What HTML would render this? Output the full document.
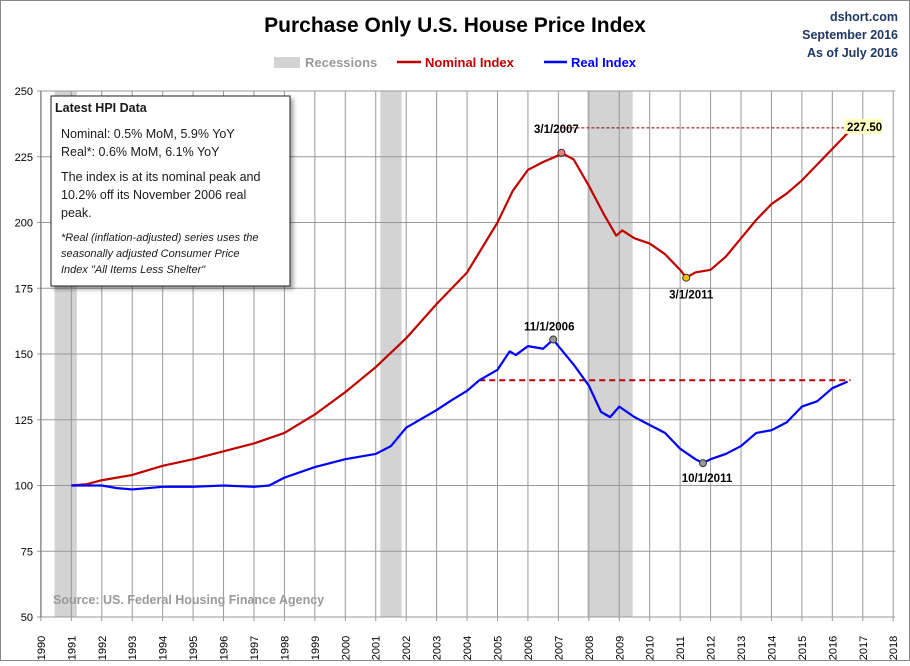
<!DOCTYPE html>
<html><head><meta charset="utf-8"><style>
body{margin:0;background:#fff;font-family:"Liberation Sans",sans-serif}
svg text{font-family:"Liberation Sans",sans-serif}
</style></head><body>
<svg width="910" height="661" xmlns="http://www.w3.org/2000/svg">
<defs><filter id="sh" x="-10%" y="-10%" width="130%" height="130%"><feDropShadow dx="3" dy="3" stdDeviation="2" flood-color="#000" flood-opacity="0.35"/></filter></defs>
<rect x="0.5" y="0.5" width="909" height="660" fill="#fff" stroke="#888"/>
<text x="455" y="32" text-anchor="middle" font-size="21" font-weight="bold">Purchase Only U.S. House Price Index</text>
<g font-size="12.5" font-weight="bold" fill="#1f3864" text-anchor="end">
<text x="898" y="21">dshort.com</text><text x="898" y="39">September 2016</text><text x="898" y="57">As of July 2016</text></g>
<g font-size="13" font-weight="bold">
<rect x="274" y="57" width="26" height="11" fill="#d3d3d3"/>
<text x="305" y="67" fill="#999">Recessions</text>
<line x1="397" y1="62" x2="421" y2="62" stroke="#c00000" stroke-width="2.5"/>
<text x="425" y="67" fill="#c00000">Nominal Index</text>
<line x1="544" y1="62" x2="567" y2="62" stroke="#0000ff" stroke-width="2.5"/>
<text x="571" y="67" fill="#0000ff">Real Index</text>
</g>
<g id="plot"></g>
<g filter="url(#sh)">
<rect x="51" y="96" width="239" height="190" fill="#fff" stroke="#222"/>
</g>
<g font-size="12.5" fill="#1a1a1a">
<text x="55" y="112" font-weight="bold">Latest HPI Data</text>
<text x="61" y="138">Nominal:  0.5% MoM, 5.9% YoY</text>
<text x="61" y="156">Real*:  0.6% MoM, 6.1% YoY</text>
<text x="61" y="181">The index is at its nominal peak and</text>
<text x="61" y="199">10.2% off its November 2006 real</text>
<text x="61" y="217">peak.</text>
<g font-style="italic" font-size="11"><text x="61" y="241">*Real (inflation-adjusted) series uses the</text>
<text x="61" y="257">seasonally adjusted Consumer Price</text>
<text x="61" y="273">Index "All Items Less Shelter"</text></g>
</g>
</svg>
<script>
const years=[1990,1991,1992,1993,1994,1995,1996,1997,1998,1999,2000,2001,2002,2003,2004,2005,2006,2007,2008,2009,2010,2011,2012,2013,2014,2015,2016,2017,2018];
const yTicks=[50,75,100,125,150,175,200,225,250];
const recessions=[[1990.45,1991.18],[2001.15,2001.85],[2007.95,2009.44]];
const nomT=[1991,1991.5,1992,1993,1994,1995,1996,1997,1998,1999,2000,2001,2002,2003,2004,2005,2005.5,2006,2006.5,2007,2007.1,2007.5,2008,2008.5,2008.9,2009.1,2009.5,2010,2010.5,2011,2011.2,2011.5,2012,2012.5,2013,2013.5,2014,2014.5,2015,2015.5,2016,2016.5];
const nomV=[100,100.5,102,104,107.5,110,113,116,120,127,135.5,145,156,169,181,200,212,220,223,225.5,226.5,224,214,203,195,197,194,192,188,182,179,181,182,187,194,201,207,211,216,222,228,234];
const realT=[1991,1992,1992.5,1993,1994,1995,1996,1997,1997.5,1998,1999,2000,2001,2001.5,2002,2003,2003.5,2004,2004.4,2005,2005.4,2005.6,2006,2006.5,2006.83,2007,2007.5,2008,2008.4,2008.7,2009,2009.5,2010,2010.5,2011,2011.5,2011.75,2012,2012.5,2013,2013.5,2014,2014.5,2015,2015.5,2016,2016.5];
const realV=[100,100,99,98.5,99.5,99.5,100,99.5,100,103,107,110,112,115,122,128.7,132.5,136,140,144,151,149.6,153,152,155.5,153,146,138,128,126,130,126,123,120,114,110,108.5,110,112,115,120,121,124,130,132,137,139.5];
const X=t=>40.9+(t-1990)*30.44, Y=v=>617-(v-50)*2.63;
const NS="http://www.w3.org/2000/svg", g=document.getElementById('plot');
function mk(tag,at,parent){const e=document.createElementNS(NS,tag);for(const k in at)e.setAttribute(k,at[k]);(parent||g).appendChild(e);return e;}
const R=X(2018)+2;
mk('rect',{x:X(1990),y:Y(250),width:R-X(1990),height:Y(50)-Y(250),fill:'#fff'});
recessions.forEach(r=>{const e=mk('rect',{x:X(r[0]),y:Y(250),width:X(r[1])-X(r[0]),height:Y(50)-Y(250),fill:'#d3d3d3'});

});
years.forEach(y=>{mk('line',{x1:X(y),x2:X(y),y1:Y(250),y2:Y(50)+4,stroke:'#999','stroke-width':1});
const t=mk('text',{x:X(y),y:634,'text-anchor':'middle','font-size':11,transform:`rotate(-90 ${X(y)} 634)`,dy:4,dx:-14});t.textContent=y;

});
yTicks.forEach(v=>{mk('line',{x1:37,x2:R,y1:Y(v),y2:Y(v),stroke:'#999'});
const t=mk('text',{x:33,y:Y(v)+4,'text-anchor':'end','font-size':11});t.textContent=v;

});
mk('line',{x1:X(1990),x2:X(1990),y1:Y(250),y2:Y(50),stroke:'#666'});
const src=mk('text',{x:53,y:604,'font-size':12.5,'font-weight':'bold',fill:'#999'});src.textContent='Source: US. Federal Housing Finance Agency';


const dl=mk('line',{x1:X(2004.4),x2:X(2016.6),y1:Y(140),y2:Y(140),stroke:'#c00000','stroke-width':2,'stroke-dasharray':'6,4'});


const dl2=mk('line',{x1:X(2007.1),x2:X(2016.6),y1:Y(236),y2:Y(236),stroke:'#800','stroke-width':1,'stroke-dasharray':'3,2'});


function line(T,V,c,name){const p=mk('polyline',{points:T.map((t,i)=>X(t)+','+Y(V[i])).join(' '),fill:'none',stroke:c,'stroke-width':2.2,'stroke-linejoin':'round'});

}
line(nomT,nomV,'#c00000','nominal-index-line');
line(realT,realV,'#0000ff','real-index-line');
function dot(t,v,f,lab,lx,ly){mk('circle',{cx:X(t),cy:Y(v),r:3.5,fill:f,stroke:'#333'});
const e=mk('text',{x:lx,y:ly,'font-size':11.5,'font-weight':'bold','text-anchor':'middle'});e.textContent=lab;

}
dot(2007.1,226.5,'#f08080','3/1/2007',X(2007.1)-5,Y(226.5)-20);
dot(2011.2,179,'#ffc000','3/1/2011',X(2011.2)+5,Y(179)+21);
dot(2006.83,155.5,'#999','11/1/2006',X(2006.83)-4,Y(155.5)-9);
dot(2011.75,108.5,'#999','10/1/2011',X(2011.75)+4,Y(108.5)+19);
mk('rect',{x:844,y:Y(236)-9,width:38,height:15,fill:'#ffffc0'});
const v=mk('text',{x:847,y:Y(236)+3,'font-size':11.5,'font-weight':'bold'});v.textContent='227.50';


</script>
</body></html>
